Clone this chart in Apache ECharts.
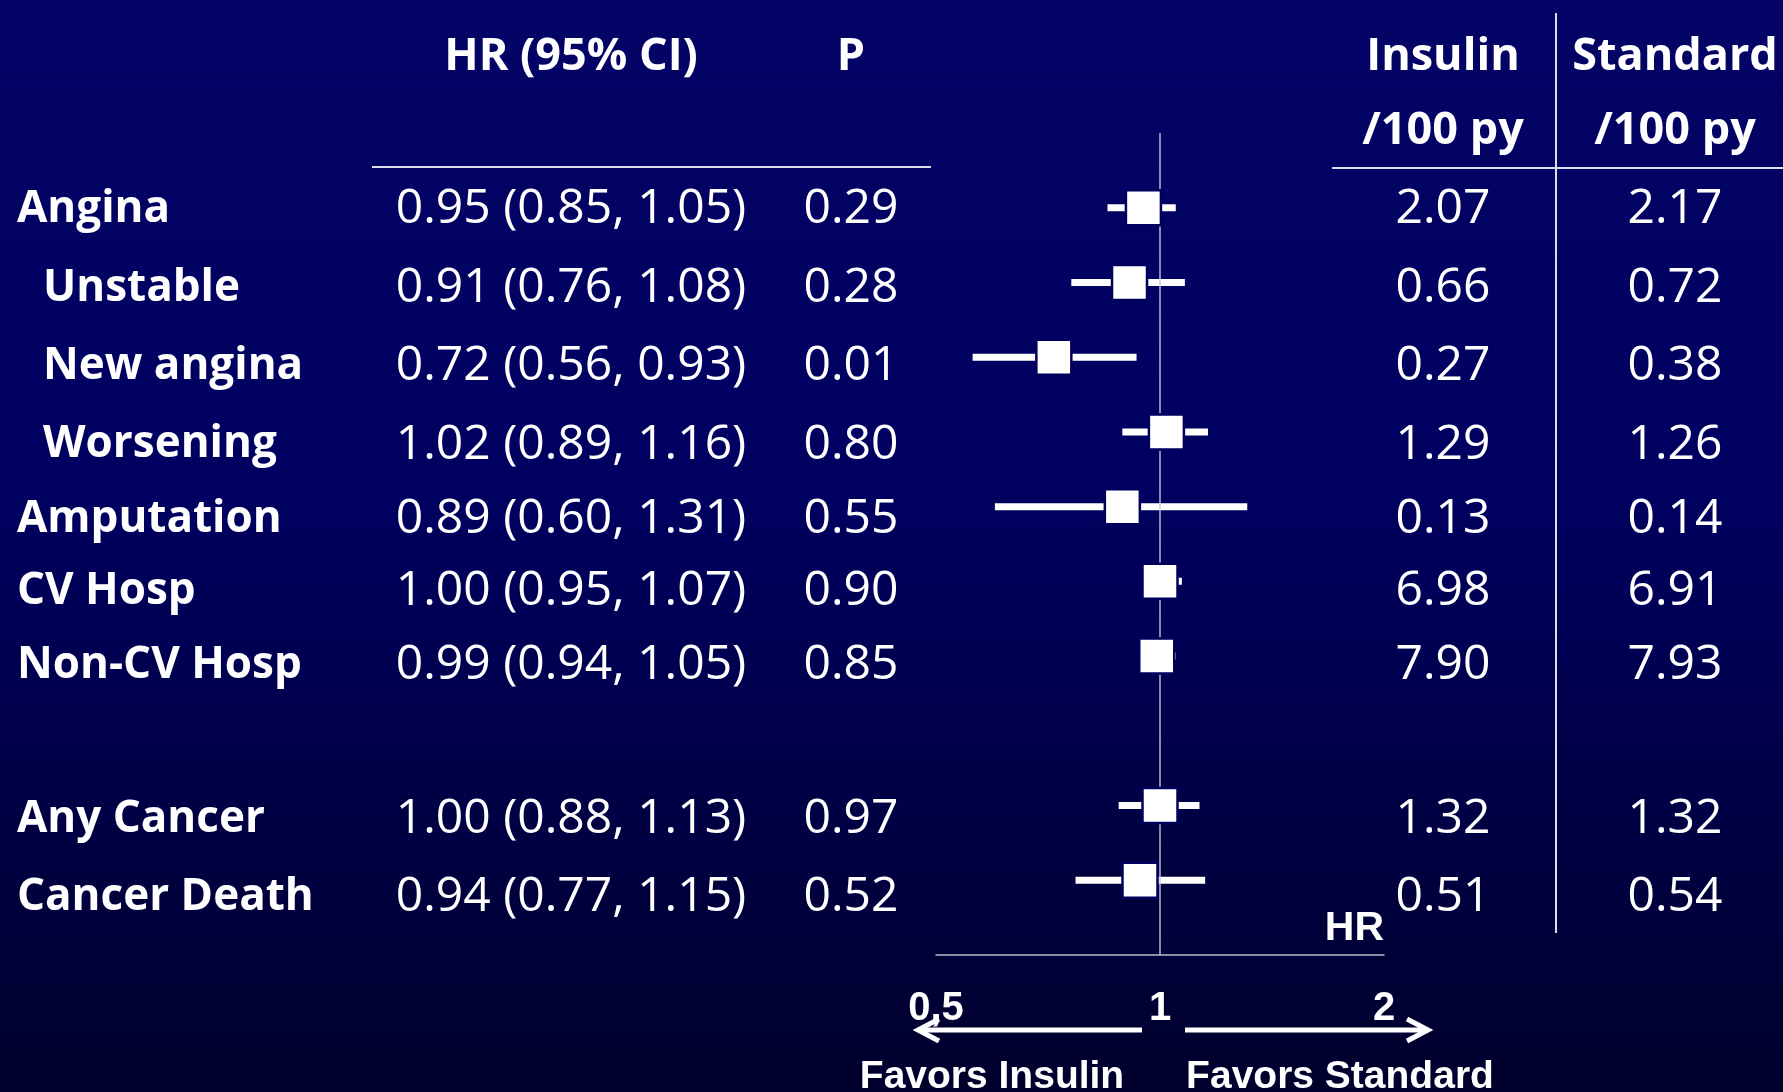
<!DOCTYPE html>
<html>
<head>
<meta charset="utf-8">
<script src="https://cdn.jsdelivr.net/npm/echarts@6/dist/echarts.min.js"></script>
<style>
  html, body { margin: 0; padding: 0; background: #000050; }
  #chart { width: 1783px; height: 1092px; }
</style>
</head>
<body>
<div id="chart"></div>
<script>
// Outcomes, hazard ratios with 95% CI, p values and event rates per 100 patient-years
const outcomes = ['Angina', 'Unstable', 'New angina', 'Worsening', 'Amputation', 'CV Hosp', 'Non-CV Hosp', 'Any Cancer', 'Cancer Death'];
const hazardRatio = [0.95, 0.91, 0.72, 1.02, 0.89, 1.00, 0.99, 1.00, 0.94];
const ciLower = [0.85, 0.76, 0.56, 0.89, 0.60, 0.95, 0.94, 0.88, 0.77];
const ciUpper = [1.05, 1.08, 0.93, 1.16, 1.31, 1.07, 1.05, 1.13, 1.15];
const pValues = ['0.29', '0.28', '0.01', '0.80', '0.55', '0.90', '0.85', '0.97', '0.52'];
const insulinRate = ['2.07', '0.66', '0.27', '1.29', '0.13', '6.98', '7.90', '1.32', '0.51'];
const standardRate = ['2.17', '0.72', '0.38', '1.26', '0.14', '6.91', '7.93', '1.32', '0.54'];
const tickValues = [0.5, 1, 2];
const tickLabels = ['0,5', '1', '2'];

// Layout: plot row slot of each outcome (slot 7 is a spacer), table line slot, indentation
const rowSlot = [0, 1, 2, 3, 4, 5, 6, 8, 9];
const textSlot = [0, 1.03, 2.05, 3.08, 4.05, 5.0, 5.97, 7.98, 9.0];
const indented = [false, true, true, true, false, false, false, false, false];

// Column anchors of the table (pixels along the full-width table grid)
const COL = { label: 17, labelIndent: 43, ci: 571, p: 851, insulin: 1443, standard: 1675 };

const FONT_LABEL = 'bold 44px "Open Sans"';
const FONT_NUM = '48px "Open Sans"';
const FONT_HEAD = 'bold 45px "Open Sans"';
const FONT_AXIS = 'Liberation Sans';

// Table cells: [x, row] positions with their text
const cells = [];
function cell(x, row, text, font, align) { cells.push({ value: [x, row], text, font, align }); }
cell(COL.ci, -2, 'HR (95% CI)', FONT_HEAD, 'center');
cell(COL.p, -2, 'P', FONT_HEAD, 'center');
cell(COL.insulin, -2, 'Insulin', FONT_HEAD, 'center');
cell(COL.standard, -2, 'Standard', FONT_HEAD, 'center');
cell(COL.insulin, -1.03, '/100 py', FONT_HEAD, 'center');
cell(COL.standard, -1.03, '/100 py', FONT_HEAD, 'center');
outcomes.forEach((name, i) => {
  const r = textSlot[i];
  cell(indented[i] ? COL.labelIndent : COL.label, r, name, FONT_LABEL, 'left');
  const ci = hazardRatio[i].toFixed(2) + ' (' + ciLower[i].toFixed(2) + ', ' + ciUpper[i].toFixed(2) + ')';
  cell(COL.ci, r, ci, FONT_NUM, 'center');
  cell(COL.p, r, pValues[i], FONT_NUM, 'center');
  cell(COL.insulin, r, insulinRate[i], FONT_NUM, 'center');
  cell(COL.standard, r, standardRate[i], FONT_NUM, 'center');
});

const whiskerData = outcomes.map((_, i) => [ciLower[i], ciUpper[i], rowSlot[i]]);
const pointData = outcomes.map((_, i) => [hazardRatio[i], rowSlot[i]]);

const chart = echarts.init(document.getElementById('chart'));
const GRID_LINE = 'rgba(205,205,222,0.9)';
const RULE = '#dcdcec';

chart.setOption({
  animation: false,
  backgroundColor: {
    type: 'linear', x: 0, y: 0, x2: 0, y2: 1,
    colorStops: [
      { offset: 0, color: '#040466' },
      { offset: 0.45, color: '#000060' },
      { offset: 1, color: '#00002c' }
    ]
  },
  grid: [
    { left: 936, width: 448, top: 133, height: 822 },
    { left: 0, right: 0, top: 57, height: 840 }
  ],
  xAxis: [
    {
      gridIndex: 0, type: 'log', logBase: 2, min: 0.5, max: 2, position: 'bottom',
      axisLine: { show: true, onZero: false, lineStyle: { color: GRID_LINE, width: 1.5 } },
      axisTick: { show: false },
      splitLine: { show: false },
      axisLabel: {
        color: '#ffffff', fontFamily: FONT_AXIS, fontWeight: 'bold', fontSize: 40,
        margin: 54, verticalAlign: 'middle',
        formatter: v => {
          const k = tickValues.findIndex(t => Math.abs(t - v) < 1e-9);
          return k >= 0 ? tickLabels[k] : '';
        }
      },
      name: 'HR', nameLocation: 'end', nameGap: 0,
      nameTextStyle: {
        color: '#ffffff', fontFamily: FONT_AXIS, fontWeight: 'bold', fontSize: 41,
        align: 'right', verticalAlign: 'bottom', padding: [0, 0, 6, 0]
      }
    },
    { gridIndex: 1, type: 'value', min: 0, max: 1783, show: false }
  ],
  yAxis: [
    { gridIndex: 0, type: 'value', min: -1, max: 10, inverse: true, show: false },
    { gridIndex: 1, type: 'value', min: -2, max: 9, inverse: true, show: false }
  ],
  series: [
    {
      // confidence-interval whiskers plus the line of no effect
      type: 'custom', xAxisIndex: 0, yAxisIndex: 0, z: 2,
      encode: { x: [0, 1], y: 2 },
      data: whiskerData,
      renderItem: (params, api) => {
        const a = api.coord([api.value(0), api.value(2)]);
        const b = api.coord([api.value(1), api.value(2)]);
        return {
          type: 'line',
          shape: { x1: a[0], y1: a[1], x2: b[0], y2: b[1] },
          style: { stroke: '#ffffff', lineWidth: 7 }
        };
      },
      markLine: {
        silent: true, symbol: 'none', label: { show: false },
        lineStyle: { color: GRID_LINE, width: 1.5, type: 'solid' },
        data: [{ xAxis: 1 }]
      }
    },
    {
      // hazard-ratio point estimates
      type: 'scatter', xAxisIndex: 0, yAxisIndex: 0, z: 5,
      symbol: 'rect', symbolSize: 35,
      itemStyle: { color: '#ffffff', borderColor: '#00005e', borderWidth: 2.5, opacity: 1 },
      data: pointData
    },
    {
      // table text
      type: 'custom', xAxisIndex: 1, yAxisIndex: 1, z: 3, clip: false,
      data: cells.map(c => c.value),
      renderItem: (params, api) => {
        const c = cells[params.dataIndex];
        const p = api.coord([api.value(0), api.value(1)]);
        return {
          type: 'text', x: p[0], y: p[1],
          style: { text: c.text, fill: '#ffffff', font: c.font, align: c.align, verticalAlign: 'middle' }
        };
      }
    }
  ],
  graphic: [
    // table rules
    { type: 'line', shape: { x1: 372, y1: 167, x2: 931, y2: 167 }, style: { stroke: RULE, lineWidth: 2 } },
    { type: 'line', shape: { x1: 1332, y1: 168, x2: 1783, y2: 168 }, style: { stroke: RULE, lineWidth: 2 } },
    { type: 'line', shape: { x1: 1556, y1: 13, x2: 1556, y2: 933 }, style: { stroke: RULE, lineWidth: 2 } },
    // direction arrows
    { type: 'line', shape: { x1: 1142, y1: 1030, x2: 919, y2: 1030 }, style: { stroke: '#ffffff', lineWidth: 5 } },
    { type: 'polyline', shape: { points: [[939, 1019], [918, 1030], [939, 1041]] }, style: { stroke: '#ffffff', lineWidth: 5, fill: null } },
    { type: 'line', shape: { x1: 1185, y1: 1030, x2: 1427, y2: 1030 }, style: { stroke: '#ffffff', lineWidth: 5 } },
    { type: 'polyline', shape: { points: [[1407, 1019], [1428, 1030], [1407, 1041]] }, style: { stroke: '#ffffff', lineWidth: 5, fill: null } },
    {
      type: 'text', x: 992, y: 1077,
      style: { text: 'Favors Insulin', fill: '#ffffff', font: 'bold 39px "Liberation Sans"', align: 'center', verticalAlign: 'middle' }
    },
    {
      type: 'text', x: 1340, y: 1077,
      style: { text: 'Favors Standard', fill: '#ffffff', font: 'bold 39px "Liberation Sans"', align: 'center', verticalAlign: 'middle' }
    }
  ]
});
</script>
</body>
</html>
